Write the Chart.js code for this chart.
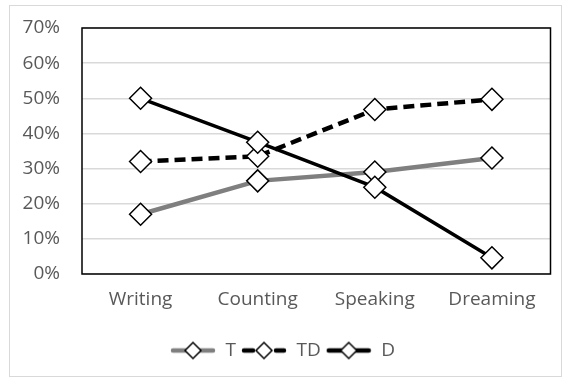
<!DOCTYPE html>
<html>
<head>
<meta charset="utf-8">
<script src="https://cdn.jsdelivr.net/npm/chart.js@4/dist/chart.umd.min.js"></script>
<style>
  html, body { margin: 0; padding: 0; background: #fff; }
  #wrap { width: 563px; height: 378px; }
</style>
</head>
<body>
<div id="wrap"><canvas id="lineChart" width="563" height="378"></canvas></div>
<script>
const categories = ['Writing', 'Counting', 'Speaking', 'Dreaming'];
const seriesNames = ['T', 'TD', 'D'];
const tValues = [0.17, 0.265, 0.29, 0.33];
const tdValues = [0.32, 0.335, 0.468, 0.497];
const dValues = [0.50, 0.375, 0.247, 0.046];
const yTicks = [0, 0.1, 0.2, 0.3, 0.4, 0.5, 0.6, 0.7];

const FONT = "'Open Sans', 'Noto Sans', sans-serif";
const TEXT = '#595959';

// small canvas used as the legend marker: line + diamond
function legendIcon(color, dashed, width) {
  const c = document.createElement('canvas');
  c.width = 46; c.height = 20;
  const g = c.getContext('2d');
  g.strokeStyle = color;
  g.lineWidth = width;
  g.lineCap = 'round';
  if (dashed) g.setLineDash([9, 7]);
  g.beginPath();
  g.moveTo(3, 10);
  g.lineTo(43, 10);
  g.stroke();
  g.setLineDash([]);
  g.beginPath();
  g.moveTo(23 - 8, 10); g.lineTo(23, 2); g.lineTo(23 + 8, 10); g.lineTo(23, 18);
  g.closePath();
  g.fillStyle = '#fff';
  g.fill();
  g.lineWidth = 1.5;
  g.strokeStyle = '#000';
  g.stroke();
  return c;
}

const styles = [
  { color: '#7f7f7f', dash: [], width: 4.5, order: 2 },
  { color: '#000000', dash: [11, 6], width: 4.5, order: 1 },
  { color: '#000000', dash: [], width: 3.5, order: 0 }
];
const values = [tValues, tdValues, dValues];

const frame = {
  id: 'frame',
  beforeDraw(chart) {
    const { ctx } = chart;
    ctx.save();
    ctx.strokeStyle = '#d9d9d9';
    ctx.lineWidth = 1;
    ctx.strokeRect(9.5, 5.5, 552, 371);
    ctx.restore();
  },
  afterDatasetsDraw(chart) {
    const { ctx, chartArea: a } = chart;
    ctx.save();
    ctx.strokeStyle = '#000';
    ctx.lineWidth = 1.5;
    ctx.strokeRect(a.left, a.top, a.right - a.left, a.bottom - a.top);
    ctx.restore();
  }
};

new Chart(document.getElementById('lineChart'), {
  type: 'line',
  data: {
    labels: categories,
    datasets: seriesNames.map((name, i) => ({
      label: name,
      data: values[i],
      order: styles[i].order,
      borderColor: styles[i].color,
      borderWidth: styles[i].width,
      borderDash: styles[i].dash,
      tension: 0,
      pointStyle: 'rectRot',
      pointRadius: 11,
      pointHoverRadius: 11,
      pointBackgroundColor: '#fff',
      pointBorderColor: '#000',
      pointBorderWidth: 1.5
    }))
  },
  options: {
    responsive: false,
    animation: false,
    layout: { padding: { left: 10, right: 8, top: 28, bottom: 8 } },
    plugins: {
      tooltip: { enabled: false },
      legend: {
        position: 'bottom',
        labels: {
          usePointStyle: true,
          pointStyleWidth: 46,
          boxHeight: 20,
          padding: 5,
          color: TEXT,
          font: { family: FONT, size: 19 },
          generateLabels(chart) {
            return chart.data.datasets.map((ds, i) => ({
              text: ds.label,
              pointStyle: legendIcon(styles[i].color, styles[i].dash.length > 0, 4.5),
              fillStyle: '#fff',
              strokeStyle: '#000',
              lineWidth: 0,
              fontColor: TEXT,
              datasetIndex: i,
              hidden: false
            }));
          }
        }
      }
    },
    scales: {
      x: {
        offset: true,
        grid: { display: false },
        border: { display: false },
        ticks: { color: TEXT, padding: 6, font: { family: FONT, size: 19 } },
        afterFit(scale) {
          scale.height = 62;
          scale.paddingLeft = 0;
          scale.paddingRight = 0;
        }
      },
      y: {
        min: 0,
        max: 0.7,
        afterBuildTicks(scale) { scale.ticks = yTicks.map(v => ({ value: v })); },
        grid: { color: '#d9d9d9', lineWidth: 1.5, drawTicks: false },
        border: { display: false },
        ticks: {
          color: TEXT,
          padding: 22,
          font: { family: FONT, size: 19 },
          callback: v => Math.round(v * 100) + '%'
        },
        afterFit(scale) {
          scale.width = 72;
          scale.paddingTop = 0;
          scale.paddingBottom = 0;
        }
      }
    }
  },
  plugins: [frame]
});
</script>
</body>
</html>
